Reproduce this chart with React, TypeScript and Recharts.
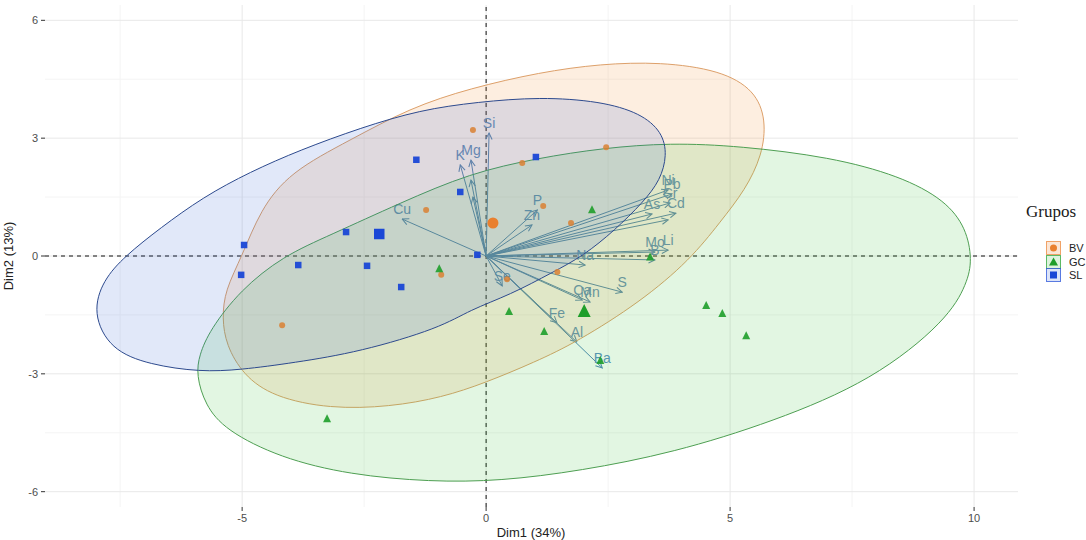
import React from "react";
import {
  ScatterChart,
  Scatter,
  XAxis,
  YAxis,
  CartesianGrid,
  ReferenceLine,
  Legend,
} from "recharts";

// individuals (Dim1, Dim2) by group
const bvPoints = [
  [-0.27, 3.21], [0.74, 2.37], [2.46, 2.77], [-1.23, 1.17], [1.17, 1.27],
  [1.74, 0.84], [-0.92, -0.48], [1.46, -0.41], [0.43, -0.59], [-4.18, -1.76],
];
const gcPoints = [
  [2.17, 1.17], [-0.96, -0.33], [0.47, -1.42], [1.19, -1.93], [2.34, -2.67],
  [-3.26, -4.15], [4.51, -1.27], [4.84, -1.47], [5.33, -2.04], [3.36, -0.03],
];
const slPoints = [
  [-1.43, 2.45], [1.02, 2.52], [-0.53, 1.63], [-2.87, 0.61], [-4.96, 0.28],
  [-5.02, -0.48], [-3.85, -0.23], [-2.44, -0.25], [-1.74, -0.79], [-0.18, 0.03],
];
const bvCenter = [[0.14, 0.84]];
const gcCenter = [[2.01, -1.42]];
const slCenter = [[-2.19, 0.56]];

// variable vectors
const varNames = [
  "Si", "Mg", "K", "Cu", "P", "Zn", "Pb", "Ni", "Cr", "As", "Cd",
  "Mo", "Li", "B", "Na", "S", "Ca", "Mn", "Se", "Fe", "Al", "Ba",
];
const varDim1 = [
  0.06, -0.31, -0.53, -1.72, 1.05, 0.94, 3.81, 3.73, 3.77, 3.4, 3.89,
  3.46, 3.73, 3.46, 2.03, 2.79, 1.97, 2.13, 0.33, 1.45, 1.86, 2.38,
];
const varDim2 = [
  3.13, 2.44, 2.32, 0.94, 1.17, 0.79, 1.58, 1.68, 1.35, 1.07, 1.09,
  0.1, 0.15, -0.1, -0.23, -0.92, -1.12, -1.17, -0.76, -1.7, -2.19, -2.85,
];
const hiddenVectors = [
  [-0.31, 1.93], [-0.27, 1.5], [3.73, 0.92],
];

// confidence ellipse outlines
const bvEllipse = [
  [-5.41, -1.58], [-5.33, -2.26], [-4.98, -3.03], [-4.36, -3.59], [-3.2, -3.89],
  [-1.97, -3.84], [-0.9, -3.6], [-0.02, -3.23], [1.0, -2.7], [1.86, -2.19],
  [3.16, -1.17], [4.18, -0.1], [4.8, 0.87], [5.31, 1.68], [5.66, 2.57],
  [5.74, 3.46], [5.51, 4.22], [4.8, 4.73], [3.57, 4.94], [2.34, 4.89],
  [1.11, 4.68], [-0.33, 4.27], [-1.56, 3.77], [-2.79, 2.95], [-4.02, 2.14],
  [-4.63, 1.17], [-5.0, 0], [-5.35, -0.87],
];
const gcEllipse = [
  [-5.94, -3.03], [-5.76, -3.79], [-5.35, -4.43], [-4.22, -5.14], [-2.79, -5.57],
  [-1.15, -5.75], [0.29, -5.73], [1.93, -5.47], [3.83, -5.01], [5.88, -4.22],
  [7.93, -3.16], [9.45, -1.63], [9.86, -0.69], [9.96, -0.1], [9.84, 0.71],
  [9.41, 1.42], [8.48, 2.04], [7.05, 2.52], [5.2, 2.8], [3.77, 2.88],
  [2.4, 2.75], [1.05, 2.49], [-0.33, 2.11], [-1.76, 1.35], [-3.2, 0.53],
  [-4.16, 0], [-5.04, -0.87], [-5.66, -1.88], [-5.88, -2.52],
];
const slEllipse = [
  [-8.07, -1.45], [-7.85, -0.61], [-7.4, 0], [-6.68, 0.71], [-5.8, 1.5],
  [-4.84, 2.14], [-3.81, 2.7], [-2.58, 3.26], [-1.35, 3.72], [-0.18, 3.92],
  [1.11, 4.05], [2.34, 3.94], [3.16, 3.64], [3.61, 3.16], [3.71, 2.57],
  [3.57, 1.93], [3.22, 1.37], [2.64, 0.66], [1.99, 0], [1.37, -0.41],
  [0.49, -0.99], [-0.33, -1.37], [-0.94, -1.83], [-2.58, -2.44], [-3.95, -2.72],
  [-5.04, -2.9], [-5.86, -2.95], [-6.89, -2.77], [-7.7, -2.39],
];

const xTicks = [-5, 0, 5, 10];
const yTicks = [-6, -3, 0, 3, 6];
const xMinor = [-7.5, -2.5, 2.5, 7.5];
const yMinor = [-4.5, -1.5, 1.5, 4.5];

const groups = ["BV", "GC", "SL"];

const BV_COL = "#E9802F";
const GC_COL = "#1E9E2A";
const SL_COL = "#1A47D6";
const VAR_COL = "#4F86B8";
const SANS = '"Liberation Sans", Arial, sans-serif';

const toXY = (arr: number[][]) => arr.map(([x, y]) => ({ x, y }));

const noDot = () => <g />;

const dot = (r: number, col: string, op: number) => (p: any) => (
  <circle cx={p.cx} cy={p.cy} r={r} fill={col} fillOpacity={op} />
);
const tri = (s: number, col: string, op: number) => (p: any) => (
  <polygon
    points={`${p.cx},${p.cy - s * 0.6} ${p.cx + s / 2},${p.cy + s * 0.4} ${p.cx - s / 2},${p.cy + s * 0.4}`}
    fill={col}
    fillOpacity={op}
  />
);
const sq = (s: number, col: string, op: number) => (p: any) => (
  <rect x={p.cx - s / 2} y={p.cy - s / 2} width={s} height={s} fill={col} fillOpacity={op} />
);

const arrowShape = (name: string) => (p: any) => (
  <g>
    <line
      x1={p.x1}
      y1={p.y1}
      x2={p.x2}
      y2={p.y2}
      stroke={VAR_COL}
      strokeWidth={1}
      markerEnd="url(#varArrow)"
    />
    {name ? (
      <text
        x={p.x2}
        y={p.y2 - 5}
        textAnchor="middle"
        fontSize={14}
        fontFamily={SANS}
        fill="#5A8FC4"
      >
        {name}
      </text>
    ) : null}
  </g>
);

const LegendKey = ({ group }: { group: string }) => {
  const col = group === "BV" ? BV_COL : group === "GC" ? GC_COL : SL_COL;
  const bg = group === "BV" ? "#FBE6D6" : group === "GC" ? "#DDF3DD" : "#DCE4F8";
  return (
    <svg width={15} height={14} style={{ display: "block" }}>
      <rect x={0.5} y={0.5} width={14} height={13} fill={bg} stroke={col} strokeOpacity={0.7} />
      {group === "BV" && <circle cx={7.5} cy={7} r={3.5} fill={col} />}
      {group === "GC" && <polygon points="7.5,2.5 12,10.5 3,10.5" fill={col} />}
      {group === "SL" && <rect x={4} y={3.5} width={7} height={7} fill={col} />}
    </svg>
  );
};

const GroupLegend = () => (
  <div style={{ width: 60 }}>
    <div
      style={{
        fontFamily: '"Liberation Serif", "Times New Roman", serif',
        fontSize: 17,
        color: "#1a1a1a",
        lineHeight: "20px",
        marginBottom: 19,
      }}
    >
      Grupos
    </div>
    {groups.map((g) => (
      <div
        key={g}
        style={{ display: "flex", alignItems: "center", height: 13.7, marginLeft: 20 }}
      >
        <LegendKey group={g} />
        <span style={{ fontFamily: SANS, fontSize: 11, color: "#222", marginLeft: 8 }}>
          {g}
        </span>
      </div>
    ))}
  </div>
);

export default function App() {
  return (
    <div style={{ position: "absolute", left: 0, top: 0, background: "#fff" }}>
      <svg width={0} height={0} style={{ position: "absolute" }}>
        <defs>
          <marker
            id="varArrow"
            viewBox="0 0 10 10"
            refX={9}
            refY={5}
            markerWidth={8}
            markerHeight={8}
            markerUnits="userSpaceOnUse"
            orient="auto"
          >
            <path d="M1,1 L9,5 L1,9" fill="none" stroke={VAR_COL} strokeWidth={1.3} />
          </marker>
        </defs>
      </svg>
      <ScatterChart
        width={1086}
        height={540}
        margin={{ top: 5, right: 68, left: 0, bottom: 0 }}
      >
        <CartesianGrid
          stroke="#F4F4F4"
          strokeWidth={1}
          verticalValues={xMinor}
          horizontalValues={yMinor}
          syncWithTicks={false}
        />
        <CartesianGrid
          stroke="#E8E8E8"
          strokeWidth={1}
          verticalValues={xTicks}
          horizontalValues={yTicks}
          syncWithTicks={false}
        />
        <XAxis
          type="number"
          dataKey="x"
          domain={[-9.04, 10.9]}
          ticks={xTicks}
          allowDataOverflow
          height={33}
          axisLine={false}
          tickSize={4}
          tickMargin={3}
          tickLine={{ stroke: "#333" }}
          tick={{ fontSize: 11, fill: "#4D4D4D", fontFamily: SANS }}
          label={{
            position: "center",
            content: () => (
              <text x={531} y={537} textAnchor="middle" fontSize={13} fill="#222" fontFamily={SANS}>
                Dim1 (34%)
              </text>
            ),
          }}
        />
        <YAxis
          type="number"
          dataKey="y"
          domain={[-6.39, 6.39]}
          ticks={yTicks}
          allowDataOverflow
          width={45}
          axisLine={false}
          tickSize={4}
          tickMargin={3}
          tickLine={{ stroke: "#333" }}
          tick={{ fontSize: 11, fill: "#4D4D4D", fontFamily: SANS }}
          label={{
            position: "center",
            content: () => (
              <text
                x={13}
                y={256}
                transform="rotate(-90 13 256)"
                textAnchor="middle"
                fontSize={13}
                fill="#222"
                fontFamily={SANS}
              >
                Dim2 (13%)
              </text>
            ),
          }}
        />
        <Legend
          layout="vertical"
          align="center"
          verticalAlign="middle"
          wrapperStyle={{ left: 1026, top: 202, width: 60 }}
          content={() => <GroupLegend />}
        />

        {/* ellipses */}
        <Scatter
          data={toXY(bvEllipse)}
          fill={BV_COL}
          shape={noDot}
          line={{ stroke: "#DDA06A", strokeWidth: 1, fill: "#F08A30", fillOpacity: 0.15 }}
          lineType="joint"
          lineJointType="basisClosed"
          isAnimationActive={false}
        />
        <Scatter
          data={toXY(gcEllipse)}
          fill={GC_COL}
          shape={noDot}
          line={{ stroke: "#4E9F52", strokeWidth: 1, fill: "#3CC03C", fillOpacity: 0.15 }}
          lineType="joint"
          lineJointType="basisClosed"
          isAnimationActive={false}
        />
        <Scatter
          data={toXY(slEllipse)}
          fill={SL_COL}
          shape={noDot}
          line={{ stroke: "#2D4A8E", strokeWidth: 1, fill: "#2A5AD8", fillOpacity: 0.14 }}
          lineType="joint"
          lineJointType="basisClosed"
          isAnimationActive={false}
        />

        <ReferenceLine x={0} stroke="#111" strokeDasharray="4 4" strokeWidth={1} />
        <ReferenceLine y={0} stroke="#111" strokeDasharray="4 4" strokeWidth={1} />

        {/* individuals */}
        <Scatter data={toXY(bvPoints)} fill={BV_COL} shape={dot(3, "#D98032", 0.85)} isAnimationActive={false} />
        <Scatter data={toXY(gcPoints)} fill={GC_COL} shape={tri(8, GC_COL, 0.9)} isAnimationActive={false} />
        <Scatter data={toXY(slPoints)} fill={SL_COL} shape={sq(6.5, SL_COL, 0.95)} isAnimationActive={false} />
        <Scatter data={toXY(bvCenter)} fill={BV_COL} shape={dot(5.5, BV_COL, 1)} isAnimationActive={false} />
        <Scatter data={toXY(gcCenter)} fill={GC_COL} shape={tri(13, GC_COL, 1)} isAnimationActive={false} />
        <Scatter data={toXY(slCenter)} fill={SL_COL} shape={sq(10.5, SL_COL, 1)} isAnimationActive={false} />

        {/* variable arrows */}
        {hiddenVectors.map(([x, y], i) => (
          <ReferenceLine
            key={`h${i}`}
            segment={[{ x: 0, y: 0 }, { x, y }]}
            shape={arrowShape("")}
          />
        ))}
        {varNames.map((name, i) => (
          <ReferenceLine
            key={name}
            segment={[{ x: 0, y: 0 }, { x: varDim1[i], y: varDim2[i] }]}
            shape={arrowShape(name)}
          />
        ))}
      </ScatterChart>
    </div>
  );
}
